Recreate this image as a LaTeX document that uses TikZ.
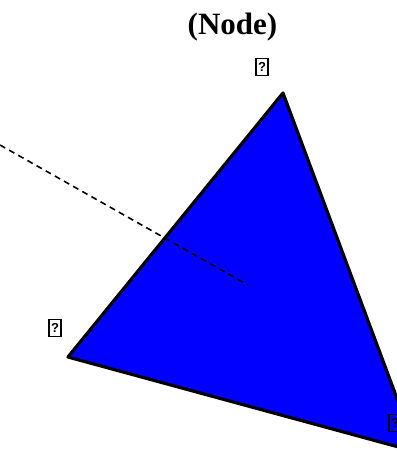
\documentclass[tikz,border=0pt]{standalone}
\usepackage{fontspec}
\setmainfont{Liberation Serif}
\newfontfamily\boxfont{Liberation Sans}
\usetikzlibrary{arrows.meta, positioning, calc}

\tikzset{
    qbox/.style={draw, line width=1.2pt, inner sep=0pt, minimum width=12pt, minimum height=17pt, font=\boxfont\bfseries\fontsize{13}{13}\selectfont},
    edge/.style={line width=3.2pt, line join=round}
}

\begin{document}
\begin{tikzpicture}[x=1pt, y=-1pt]
    \useasboundingbox (0,0) rectangle (397,451);
    \begin{scope}
    \clip (0,0) rectangle (397,451);

    % Đỉnh tam giác
    \coordinate (top) at (283,93);
    \coordinate (left) at (68,357);
    \coordinate (right) at (417,452);

    % Tam giác
    \draw[edge, fill=blue] (top) -- (left) -- (right) -- cycle;

    % Đường nét đứt
    \coordinate (far) at (0,145);
    \coordinate (mid) at (248,285);
    \draw[line width=1.6pt, dash pattern=on 6pt off 4.5pt] (far) -- (mid);

    % Nhãn
    \node[font=\bfseries\fontsize{31}{31}\selectfont] (title) at (232.5,27) {(Node)};
    \node[qbox] (qtop) at (262,67) {?};
    \node[qbox] (qleft) at (55,328) {?};
    \node[qbox] (qright) at (395,423) {?};
    \end{scope}
\end{tikzpicture}
\end{document}
